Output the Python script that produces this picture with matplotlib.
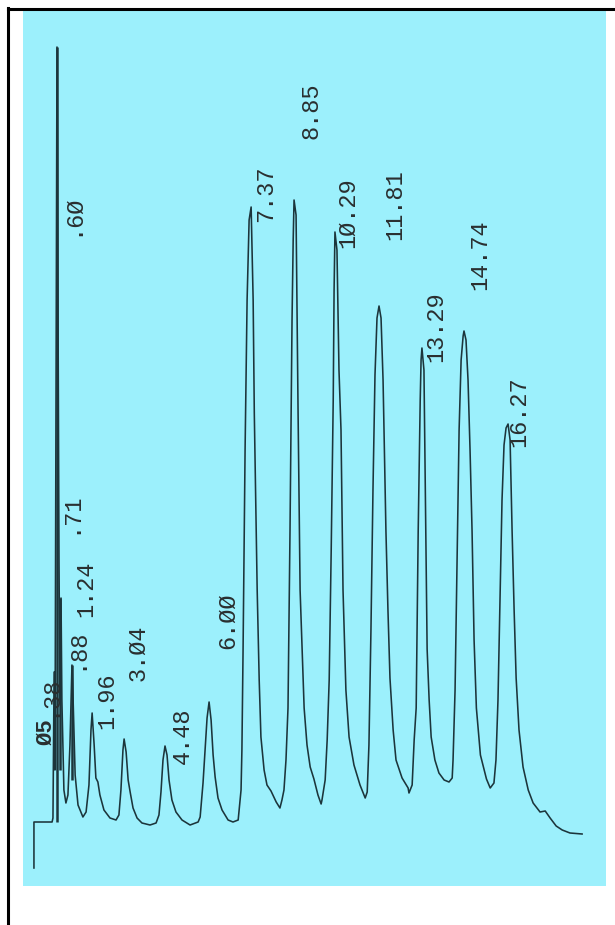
import matplotlib.pyplot as plt
from matplotlib.lines import Line2D

# chromatogram trace: retention time (min) and detector response (arb. units)
time_min = [
    -0.20, -0.20, 0.43, 0.46, 0.50, 0.53, 0.60, 0.67, 0.70, 0.74, 0.77, 0.84, 0.91, 0.98,
    1.05, 1.12, 1.16, 1.23, 1.33, 1.50, 1.61, 1.71, 1.78, 1.82, 1.89, 1.95, 2.02, 2.09,
    2.23, 2.44, 2.65, 2.75, 2.82, 2.89, 2.93, 3.00, 3.07, 3.14, 3.24, 3.38, 3.55, 3.83,
    4.04, 4.14, 4.21, 4.28, 4.35, 4.42, 4.49, 4.59, 4.73, 4.94, 5.22, 5.50, 5.57, 5.67,
    5.74, 5.81, 5.88, 5.95, 6.02, 6.09, 6.19, 6.33, 6.54, 6.71, 6.89, 6.99, 7.02, 7.06,
    7.13, 7.20, 7.27, 7.34, 7.41, 7.45, 7.55, 7.62, 7.68, 7.79, 7.89, 8.03, 8.21, 8.34,
    8.41, 8.48, 8.55, 8.62, 8.69, 8.73, 8.76, 8.80, 8.83, 8.90, 8.93, 8.97, 9.04, 9.18,
    9.28, 9.39, 9.52, 9.66, 9.77, 9.80, 9.91, 9.98, 10.05, 10.12, 10.19, 10.22, 10.25,
    10.32, 10.39, 10.46, 10.53, 10.63, 10.74, 10.91, 11.12, 11.30, 11.37, 11.43, 11.50,
    11.57, 11.64, 11.71, 11.78, 11.85, 11.92, 12.02, 12.09, 12.16, 12.27, 12.37, 12.58,
    12.79, 12.82, 12.93, 13.00, 13.07, 13.14, 13.21, 13.24, 13.27, 13.34, 13.38, 13.45,
    13.52, 13.59, 13.72, 13.86, 14.04, 14.21, 14.32, 14.35, 14.42, 14.49, 14.56, 14.63,
    14.70, 14.73, 14.80, 14.87, 14.94, 15.01, 15.08, 15.16, 15.30, 15.51, 15.64, 15.77,
    15.84, 15.91, 15.98, 16.05, 16.12, 16.19, 16.26, 16.33, 16.40, 16.47, 16.54, 16.64,
    16.78, 16.96, 17.13, 17.37, 17.55, 17.72, 17.93, 18.14, 18.41, 18.83,
]
response = [
    18, 64, 64, 68, 214, 116, 839, 326, 186, 288, 186, 96, 83, 91,
    141, 221, 186, 111, 81, 69, 74, 101, 156, 173, 141, 108, 104, 91,
    76, 68, 66, 71, 96, 136, 147, 134, 106, 94, 78, 68, 63, 61,
    63, 71, 94, 126, 140, 131, 106, 86, 74, 66, 61, 64, 69, 103,
    136, 168, 184, 166, 131, 109, 88, 76, 66, 64, 66, 96, 136, 236,
    436, 586, 666, 679, 586, 473, 296, 206, 149, 116, 101, 95, 84, 78,
    86, 96, 126, 178, 356, 473, 566, 646, 686, 671, 586, 473, 296, 178,
    141, 119, 107, 91, 82, 86, 106, 146, 206, 336, 486, 596, 654,
    636, 516, 456, 296, 196, 149, 121, 101, 88, 94, 141, 256,
    396, 511, 568, 580, 568, 506, 355, 276, 208, 156, 126, 108,
    98, 93, 101, 146, 178, 355, 486, 526, 538, 516, 414, 237,
    186, 149, 126, 113, 106, 104, 108, 126, 196, 326, 456, 526,
    550, 555, 546, 506, 436, 355, 246, 178, 131, 107, 98, 103,
    126, 186, 286, 386, 441, 458, 462, 446, 355, 276, 208, 156,
    119, 96, 83, 74, 75, 68, 60, 56, 53, 52,
]

# printed retention-time labels (printer font uses a slashed zero)
peak_labels = [".6Ø", ".71", "1.24", ".88", ".38", "1.96", "3.Ø4", "4.48", "6.ØØ",
               "7.37", "8.85", "1Ø.29", "11.81", "13.29", "14.74", "16.27"]
label_t = [1.09, 1.05, 1.61, 1.26, 0.32, 2.34, 3.41, 4.94, 6.51,
           7.86, 9.42, 10.70, 12.34, 13.76, 15.29, 16.64]
label_r = [650, 352, 269, 216, 169, 157, 205, 122, 237,
           664, 747, 638, 646, 524, 596, 439]

# overprinted narrow spikes at the start of the run
spike_t = [0.60, 0.72, 1.12]
spike_lo = [64, 116, 106]
spike_hi = [839, 288, 221]

BG = "#9cf0fc"
INK = "#1c353b"

fig = plt.figure(figsize=(6.15, 9.25), dpi=100)
fig.patch.set_facecolor("white")

ax = fig.add_axes([23 / 615, 39 / 925, 583 / 615, 875 / 925])
ax.set_facecolor(BG)
for s in ax.spines.values():
    s.set_visible(False)
ax.set_xticks([])
ax.set_yticks([])
ax.set_xlim(-0.58, 19.66)
ax.set_ylim(0, 875)

ax.plot(time_min, response, color=INK, lw=1.15, solid_joinstyle="round")
ax.vlines(spike_t, spike_lo, spike_hi, color=INK, lw=1.8)

for txt, t, r in zip(peak_labels, label_t, label_r):
    ax.text(t, r, txt, rotation=90, ha="center", va="bottom",
            family="Liberation Mono", fontsize=17, color="#2a2f30")
# the heavy overstruck "05" next to .38
ax.text(0.22, 141, "Ø5", rotation=90, ha="center", va="bottom",
        family="Liberation Mono", fontsize=16, fontweight="bold", color="#2a2f30")

# black frame lines along the left and top edges of the scan
fig.add_artist(Line2D([8 / 615, 8 / 615], [0, 1 - 8 / 925], color="black", lw=2.2))
fig.add_artist(Line2D([8 / 615, 1], [1 - 9 / 925, 1 - 9 / 925], color="black", lw=2.2))

fig.savefig("out.png", dpi=100)
